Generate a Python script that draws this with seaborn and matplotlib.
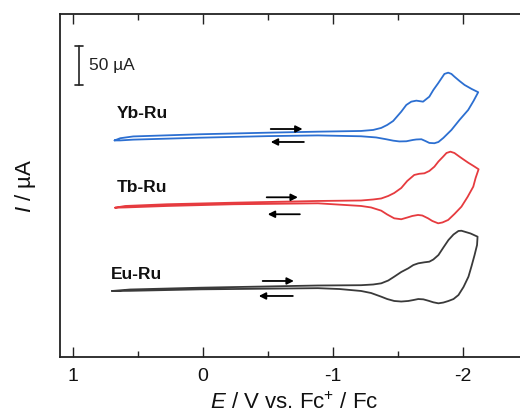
import numpy as np
import pandas as pd
import matplotlib
matplotlib.use("Agg")
import matplotlib.pyplot as plt
import seaborn as sns

# ---------------- data ----------------
# Yb-Ru (blue), potential E in V vs Fc+/Fc, current I in µA (relative)
yb_E = [0.680, 0.637, 0.537, 0.019, -0.498, -0.884, -1.216, -1.309, -1.371, -1.417,
        -1.463, -1.525, -1.564, -1.602, -1.641, -1.693, -1.741, -1.772, -1.809, -1.857,
        -1.886, -1.911, -1.934, -1.973, -2.012, -2.066, -2.117,
        -2.081, -2.040, -1.973, -1.911, -1.849, -1.811, -1.780, -1.741, -1.710,
        -1.680, -1.641, -1.615, -1.564, -1.510, -1.463, -1.409, -1.332, -1.216,
        -0.884, -0.498, 0.019, 0.537, 0.637, 0.680]
yb_I = [-7.0, -4.2, -1.9, 0.9, 2.9, 4.2, 5.1, 6.4, 9.0, 12.8,
        17.9, 29.8, 38.4, 42.6, 43.9, 42.6, 49.0, 57.6, 66.2, 78.1,
        79.7, 78.1, 74.6, 69.1, 64.0, 58.9, 54.7,
        43.5, 32.0, 19.2, 6.4, -3.8, -9.0, -10.6, -10.2, -7.7,
        -5.5, -5.8, -6.4, -8.1, -8.3, -7.3, -5.5, -3.2, -1.7,
        -0.6, -1.5, -3.5, -6.0, -7.0, -7.0]

# Tb-Ru (red)
tb_E = [0.676, 0.598, 0.276, -0.236, -0.884, -1.216, -1.309, -1.371, -1.425, -1.471,
        -1.525, -1.571, -1.625, -1.664, -1.703, -1.741, -1.780, -1.811, -1.847, -1.873,
        -1.903, -1.934, -1.973, -2.004, -2.040, -2.081, -2.120,
        -2.097, -2.079, -2.035, -1.988, -1.934, -1.886, -1.842, -1.809, -1.764,
        -1.731, -1.687, -1.654, -1.610, -1.577, -1.525, -1.471, -1.417, -1.371,
        -1.293, -1.216, -0.884, -0.236, 0.276, 0.598, 0.676]
tb_I = [-7.3, -5.1, -2.9, -0.9, 1.3, 1.9, 3.2, 4.5, 7.7, 11.5,
        17.9, 26.9, 34.6, 36.1, 36.7, 39.7, 45.2, 51.8, 58.0, 62.7,
        64.4, 62.7, 58.0, 54.4, 50.3, 46.1, 41.9,
        30.7, 19.6, 6.4, -6.0, -15.4, -23.0, -26.2, -27.3, -24.3,
        -20.9, -17.3, -16.6, -17.9, -19.6, -22.1, -20.9, -16.0, -11.1,
        -7.0, -5.1, -1.7, -2.9, -5.1, -7.0, -7.3]

# Eu-Ru (black)
eu_E = [0.699, 0.560, 0.019, -0.884, -1.216, -1.309, -1.371, -1.425, -1.471, -1.525,
        -1.579, -1.618, -1.656, -1.703, -1.741, -1.772, -1.811, -1.849, -1.888, -1.927,
        -1.965, -1.988, -2.012, -2.058, -2.112,
        -2.108, -2.089, -2.066, -2.042, -2.004, -1.965, -1.927, -1.888, -1.849,
        -1.811, -1.772, -1.734, -1.695, -1.656, -1.618, -1.579, -1.525, -1.471,
        -1.417, -1.371, -1.293, -1.216, -1.050, -0.884, 0.019, 0.560, 0.699]
eu_I = [-3.8, -1.9, 0.4, 3.2, 3.6, 4.5, 6.0, 9.6, 14.5, 20.5,
        25.2, 29.4, 31.6, 32.9, 33.7, 36.5, 42.2, 51.8, 61.4, 68.5,
        73.0, 73.3, 72.1, 69.8, 65.7,
        55.0, 42.2, 28.2, 14.5, 1.3, -9.0, -14.1, -16.6, -18.6,
        -19.6, -18.3, -16.3, -14.5, -14.1, -15.4, -16.6, -17.3, -16.6,
        -14.1, -11.1, -6.4, -3.8, -1.3, -0.2, -1.7, -3.6, -3.8]

names = ["Yb-Ru", "Tb-Ru", "Eu-Ru"]
offsets = [284.2, 198.4, 88.3]          # vertical stacking offsets, µA
colors = ["#2c6fd1", "#e63b3f", "#3a3a3a"]
scale_bar_uA = 50

# ---------------- figure ----------------
sns.set_theme(style="ticks")
plt.rcParams["font.family"] = ["Liberation Sans", "DejaVu Sans"]
plt.rcParams["mathtext.fontset"] = "custom"
plt.rcParams["mathtext.rm"] = "Liberation Sans"
plt.rcParams["mathtext.it"] = "Liberation Sans:italic"

fig = plt.figure(figsize=(5.2, 4.19), dpi=100)
ax = fig.add_axes([60 / 520, 62 / 419, 468 / 520, 343 / 419])

frames = []
for name, E, I, off in zip(names, [yb_E, tb_E, eu_E], [yb_I, tb_I, eu_I], offsets):
    d = pd.DataFrame({"E": E, "I": np.asarray(I) + off})
    d["complex"] = name
    frames.append(d)
df = pd.concat(frames, ignore_index=True)

for name, col in zip(names, colors):
    sub = df[df["complex"] == name]
    sns.lineplot(data=sub, x="E", y="I", sort=False, estimator=None,
                 color=col, lw=1.3, ax=ax, solid_joinstyle="round")

ax.set_xlim(1.1, -2.5)
ax.set_ylim(0, 439)

# labels next to curves
label_pos = [(0.663, 311.9), (0.663, 217.2), (0.707, 106.2)]
for name, (lx, ly) in zip(names, label_pos):
    ax.text(lx, ly, name, fontsize=12.5, fontweight="bold", ha="left", va="center", color="#111111")

# scan direction arrows
arrows = [((-0.521, 291.8), (-0.766, 291.8)), ((-0.776, 275.2), (-0.521, 275.2)),
          ((-0.490, 204.4), (-0.730, 204.4)), ((-0.745, 182.7), (-0.498, 182.7)),
          ((-0.459, 97.3), (-0.699, 97.3)), ((-0.691, 78.1), (-0.429, 78.1))]
for (x0, y0), (x1, y1) in arrows:
    ax.annotate("", xy=(x1, y1), xytext=(x0, y0),
                arrowprops=dict(arrowstyle="-|>", color="black", lw=1.3,
                                mutation_scale=10, shrinkA=0, shrinkB=0))

# scale bar
sb_x, sb_y0 = 0.954, 348.2
ax.plot([sb_x, sb_x], [sb_y0, sb_y0 + scale_bar_uA], color="#222222", lw=1.2)
ax.plot([sb_x - 0.03, sb_x + 0.03], [sb_y0, sb_y0], color="#222222", lw=1.2)
ax.plot([sb_x - 0.03, sb_x + 0.03], [sb_y0 + scale_bar_uA] * 2, color="#222222", lw=1.2)
ax.text(0.876, sb_y0 + scale_bar_uA / 2, "50 µA", fontsize=12.5, ha="left", va="center", color="#222222")

# axes styling
ax.set_xticks([1, 0, -1, -2])
ax.set_xticklabels(["1", "0", "-1", "-2"])
ax.set_xticks([0.5, -0.5, -1.5], minor=True)
ax.set_yticks([])
ax.tick_params(axis="x", which="both", direction="in", top=True, bottom=True,
               labelsize=14, pad=8, width=1.0, color="#222222", labelcolor="#111111")
ax.tick_params(axis="x", which="major", length=7)
ax.tick_params(axis="x", which="minor", length=4)
for s in ax.spines.values():
    s.set_linewidth(1.3)
    s.set_color("#222222")

ax.set_xlabel("$E$ / V vs. Fc$^{+}$ / Fc", fontsize=16, labelpad=5, color="#111111")
ax.set_ylabel("$I$ / µA", fontsize=16, labelpad=16, color="#111111")

fig.savefig("out.png", dpi=100)
